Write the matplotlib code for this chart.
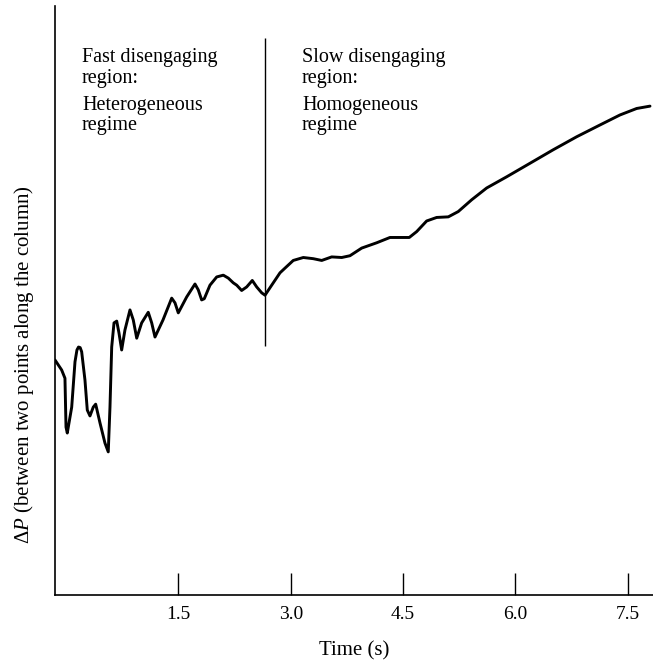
#!/usr/bin/env python3
"""
Pressure drop trace during bed disengagement
"""
import matplotlib
matplotlib.use('Agg')
import matplotlib.pyplot as plt

# time (s)
time_s = [-0.148, -0.059, -0.015, -0.001, 0.016, 0.075, 0.119, 0.145, 0.166, 0.188, 0.208, 0.252,
          0.283, 0.319, 0.363, 0.395, 0.453, 0.519, 0.563, 0.586, 0.609, 0.640,
          0.676, 0.706, 0.742, 0.786, 0.853, 0.897, 0.943, 1.009, 1.097, 1.143,
          1.187, 1.294, 1.410, 1.454, 1.498, 1.610, 1.721, 1.765, 1.810, 1.845,
          1.921, 2.011, 2.099, 2.166, 2.232, 2.278, 2.344, 2.411, 2.486, 2.545,
          2.612, 2.656, 2.745, 2.856, 2.923, 3.033, 3.167, 3.300, 3.413, 3.546,
          3.680, 3.790, 3.947, 4.147, 4.324, 4.458, 4.582, 4.681, 4.814, 4.948,
          5.103, 5.236, 5.415, 5.615, 5.882, 6.194, 6.505, 6.817, 7.128, 7.395,
          7.618, 7.796]

# pressure difference, arbitrary units (no scale on the original)
delta_p = [39.9, 38.2, 36.8, 28.5, 27.5, 31.9, 39.6, 41.6, 42.1, 42.0, 41.3, 36.5,
           31.4, 30.4, 31.9, 32.4, 29.2, 25.8, 24.3, 31.9, 42.1, 46.2,
           46.5, 44.5, 41.6, 45.0, 48.4, 46.7, 43.6, 46.2, 48.0, 46.2,
           43.8, 46.7, 50.4, 49.6, 47.9, 50.6, 52.8, 51.8, 50.1, 50.3,
           52.6, 54.0, 54.3, 53.8, 53.0, 52.6, 51.7, 52.3, 53.4, 52.3,
           51.3, 50.9, 52.6, 54.7, 55.5, 56.8, 57.3, 57.1, 56.8, 57.4,
           57.3, 57.6, 58.9, 59.8, 60.7, 60.7, 60.7, 61.7, 63.5, 64.1,
           64.2, 65.1, 67.1, 69.1, 71.0, 73.3, 75.6, 77.8, 79.8, 81.5,
           82.6, 83.0]

x_ticks = [1.5, 3.0, 4.5, 6.0, 7.5]
x_tick_labels = ['1.5', '3.0', '4.5', '6.0', '7.5']

# regime boundary
boundary_t = 2.656
boundary_span = (42.3, 94.6)

plt.rcParams['font.family'] = ['Liberation Serif', 'DejaVu Serif']
plt.rcParams['mathtext.fontset'] = 'custom'
plt.rcParams['mathtext.it'] = 'Liberation Serif:italic'
plt.rcParams['mathtext.rm'] = 'Liberation Serif'

fig = plt.figure(figsize=(6.53, 6.61), dpi=100)
ax = fig.add_axes([55 / 653, 1 - 595 / 661, 1 - 55 / 653, 589 / 661])

ax.plot(time_s, delta_p, color='black', lw=2.1, solid_capstyle='round',
        solid_joinstyle='round')
ax.vlines(boundary_t, *boundary_span, color='black', lw=1.0)

ax.set_xlim(-0.148, 7.836)
ax.set_ylim(0, 100)

for side in ['top', 'right']:
    ax.spines[side].set_visible(False)
for side in ['left', 'bottom']:
    ax.spines[side].set_linewidth(1.2)

ax.set_xticks(x_ticks)
ax.set_xticklabels(x_tick_labels, fontsize=14)
ax.tick_params(axis='x', direction='in', length=16, width=1.0, pad=8)
ax.set_yticks([])

ax.set_xlabel('Time (s)', fontsize=15, labelpad=13)

fig.text(24 / 653, 1 - 365 / 661,
         r'$\Delta P$ (between two points along the column)',
         rotation=90, ha='center', va='center', fontsize=15)

# region annotations
txt_kw = dict(fontsize=14.5, ha='left', va='baseline', transform=fig.transFigure)
fig.text(82 / 653, 1 - 62 / 661, 'Fast disengaging', **txt_kw)
fig.text(82 / 653, 1 - 83 / 661, 'region:', **txt_kw)
fig.text(82 / 653, 1 - 110 / 661, 'Heterogeneous', **txt_kw)
fig.text(82 / 653, 1 - 130 / 661, 'regime', **txt_kw)
fig.text(302 / 653, 1 - 62 / 661, 'Slow disengaging', **txt_kw)
fig.text(302 / 653, 1 - 83 / 661, 'region:', **txt_kw)
fig.text(302 / 653, 1 - 110 / 661, 'Homogeneous', **txt_kw)
fig.text(302 / 653, 1 - 130 / 661, 'regime', **txt_kw)

fig.savefig('out.png', dpi=100)
plt.close(fig)
